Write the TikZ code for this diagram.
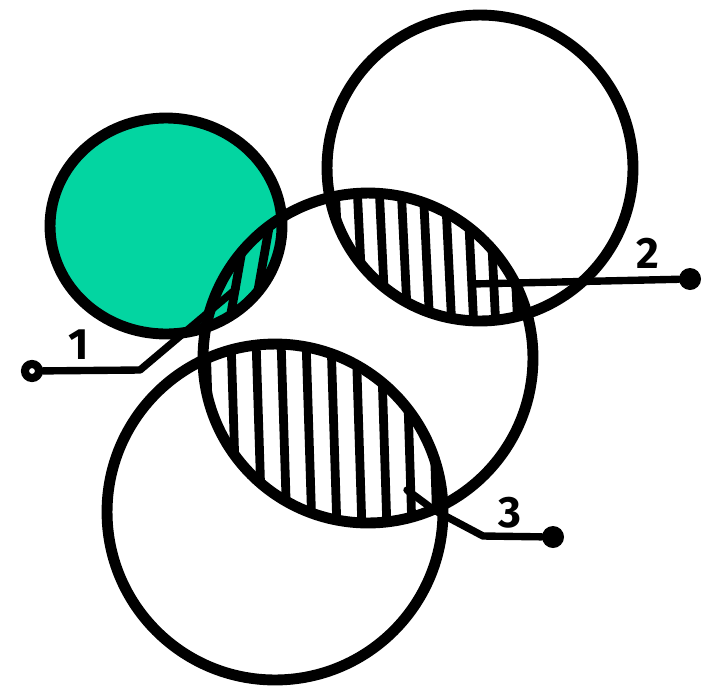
\documentclass[tikz,border=0pt]{standalone}
\usepackage{fontspec}
\usepackage{xcolor}
\usepackage{tikz}
\usetikzlibrary{positioning}

\newfontfamily\numfont{Fira Sans}
\definecolor{mint}{RGB}{3,213,161}

\begin{document}
\begin{tikzpicture}[
    x=0.02cm, y=-0.02cm,
    outline/.style={draw=black, line width=6.2pt},
    hatchline/.style={draw=black, line width=5pt, line cap=butt},
    leader/.style={draw=black, line width=4.2pt, line join=round, line cap=round},
    enddot/.style={circle, fill=black, inner sep=0pt, minimum size=0.44cm},
    hollowdot/.style={circle, draw=black, fill=white, line width=4.6pt,
        inner sep=0pt, minimum size=0.28cm},
    num/.style={font=\numfont\bfseries\fontsize{25}{25}\selectfont, inner sep=0pt},
]
\useasboundingbox (0,0) rectangle (702,690);

% centres of the four circles
\coordinate (cgreen) at (166,226);
\coordinate (ctop) at (480,168);
\coordinate (cmid) at (368,358);
\coordinate (cbot) at (275,512);

\fill[mint] (cgreen) ellipse [x radius=2.32cm, y radius=2.16cm];

% hatched overlaps
\begin{scope}
    \clip (cgreen) ellipse [x radius=2.32cm, y radius=2.16cm];
    \clip (cmid) circle [radius=3.3cm];
    \foreach \x in {205,228,...,300}
        \draw[hatchline] (\x,330) -- (\x+22,205);
\end{scope}
\begin{scope}
    \clip (ctop) circle [radius=3.06cm];
    \clip (cmid) circle [radius=3.3cm];
    \foreach \x in {335,357,...,540}
        \draw[hatchline] (\x,185) -- (\x+7,330);
\end{scope}
\begin{scope}
    \clip (cbot) circle [radius=3.36cm];
    \clip (cmid) circle [radius=3.3cm];
    \foreach \x in {206,231,...,450}
        \draw[hatchline] (\x,340) -- (\x+6,530);
\end{scope}

% outlines
\draw[outline] (cgreen) ellipse [x radius=2.32cm, y radius=2.16cm];
\draw[outline] (ctop) circle [radius=3.06cm];
\draw[outline] (cmid) circle [radius=3.3cm];
\draw[outline] (cbot) circle [radius=3.36cm];

% leaders and labels
\node[hollowdot] (dot1) at (32,371) {};
\coordinate (bend1) at (140,370);
\coordinate (end1) at (236,289);
\draw[leader] (dot1) -- (bend1) -- (end1);
\node[num] (lab1) at (79,345) {1};

\node[enddot] (dot2) at (690,279) {};
\coordinate (end2) at (472,284);
\draw[leader] (end2) -- (dot2);
\node[num] (lab2) at (648,253) {2};

\node[enddot] (dot3) at (553,537) {};
\coordinate (end3) at (407,490);
\coordinate (bend3a) at (434,510);
\coordinate (bend3b) at (483,536);
\draw[leader] (end3) -- (bend3a) -- (bend3b) -- (dot3);
\node[num] (lab3) at (510,513) {3};

\end{tikzpicture}
\end{document}
